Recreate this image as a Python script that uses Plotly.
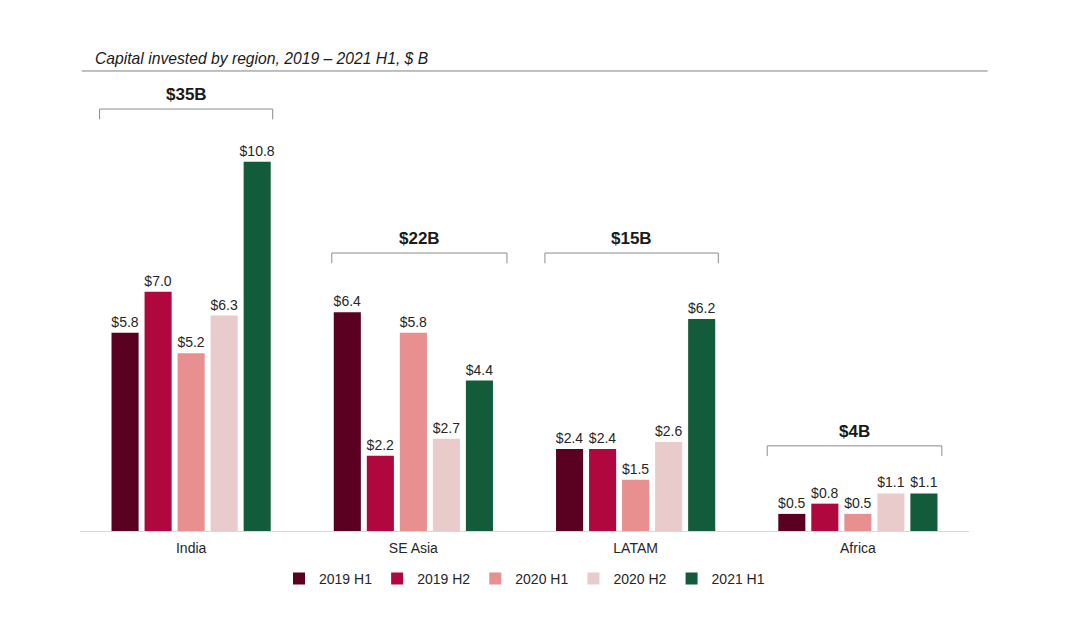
import plotly.graph_objects as go

regions = ["India", "SE Asia", "LATAM", "Africa"]
series_names = ["2019 H1", "2019 H2", "2020 H1", "2020 H2", "2021 H1"]
values_2019_h1 = [5.8, 6.4, 2.4, 0.5]
values_2019_h2 = [7.0, 2.2, 2.4, 0.8]
values_2020_h1 = [5.2, 5.8, 1.5, 0.5]
values_2020_h2 = [6.3, 2.7, 2.6, 1.1]
values_2021_h1 = [10.8, 4.4, 6.2, 1.1]
totals_labels = ["$35B", "$22B", "$15B", "$4B"]

series_values = [values_2019_h1, values_2019_h2, values_2020_h1, values_2020_h2, values_2021_h1]
colors = ["#5a0020", "#b0073f", "#e8908f", "#e9cbcb", "#135c3b"]

FONT = "Liberation Sans, Arial, sans-serif"

fig = go.Figure()
for name, vals, col in zip(series_names, series_values, colors):
    fig.add_trace(go.Bar(
        name=name, x=regions, y=vals, marker_color=col, marker_line_width=0,
        text=[f"${v:.1f}" for v in vals], textposition="outside",
        textfont=dict(size=14, color="#262626", family=FONT),
        cliponaxis=False, constraintext="none",
    ))

# bracket geometry (data units) for each region group
bracket_left = [-0.412, 0.633, 1.592, 2.592]
bracket_right = [0.367, 1.421, 2.372, 3.378]
bracket_y = [12.34, 8.13, 8.13, 2.49]
tick = 0.3

shapes = []
annotations = []
for l, r, yb, lab in zip(bracket_left, bracket_right, bracket_y, totals_labels):
    shapes.append(dict(type="path", xref="x", yref="y",
                       path=f"M {l},{yb - tick} L {l},{yb} L {r},{yb} L {r},{yb - tick}",
                       line=dict(color="#8c8c8c", width=1)))
    annotations.append(dict(x=(l + r) / 2, y=yb, xref="x", yref="y", text=f"<b>{lab}</b>",
                            showarrow=False, yanchor="bottom", yshift=3,
                            font=dict(size=17, color="#1a1a1a", family=FONT)))

# title rule
shapes.append(dict(type="line", xref="paper", yref="paper", x0=0.002, x1=1.021, y0=1.02, y1=1.02,
                   line=dict(color="#7f7f7f", width=1)))

fig.update_layout(
    width=1074, height=644,
    margin=dict(l=72, r=113, t=72, b=121),
    paper_bgcolor="white", plot_bgcolor="white",
    font=dict(family=FONT, size=14, color="#262626"),
    title=dict(text="<i>Capital invested by region, 2019 – 2021 H1, $ B</i>",
               xref="container", yref="container", x=87 / 1074, xanchor="left",
               y=1 - 51 / 644, yanchor="middle",
               font=dict(size=15.7, color="#1a1a1a", family=FONT)),
    barmode="group", bargap=0.257, bargroupgap=0.18,
    xaxis=dict(showline=True, linecolor="#d9d9d9", linewidth=1, ticks="", showgrid=False,
               ticklabelstandoff=4, tickfont=dict(size=14, color="#262626")),
    yaxis=dict(visible=False, range=[0, 13.19], showgrid=False, zeroline=False),
    legend=dict(orientation="h", x=0.5, xanchor="center", y=-0.106, yanchor="middle",
                font=dict(size=14, color="#262626"), itemwidth=30, traceorder="normal"),
    shapes=shapes, annotations=annotations,
)

fig.write_html("out.html")
